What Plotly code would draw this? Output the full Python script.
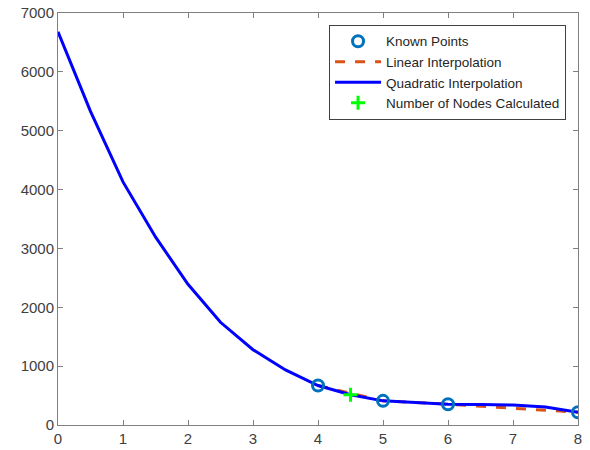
import plotly.graph_objects as go

# Data
known_x = [4, 5, 6, 8]
known_y = [671, 410, 353, 217]

linear_x = [4, 5, 6, 8]
linear_y = [671, 410, 353, 217]

quad_x = [0, 0.5, 1, 1.5, 2, 2.5, 3, 3.5, 4, 4.5, 5, 5.5, 6, 6.5, 7, 7.5, 8]
quad_y = [6680, 5330, 4130, 3195, 2390, 1745, 1280, 935, 671, 515, 410, 378, 353, 348, 338, 305, 217]

node_x = [4.5]
node_y = [512]

x_ticks = [0, 1, 2, 3, 4, 5, 6, 7, 8]
y_ticks = [0, 1000, 2000, 3000, 4000, 5000, 6000, 7000]

fig = go.Figure()
fig.add_trace(go.Scatter(x=linear_x, y=linear_y, mode="lines", name="Linear Interpolation",
                         legendrank=2,
                         line=dict(color="#D95319", width=3, dash="10px,10px")))
fig.add_trace(go.Scatter(x=quad_x, y=quad_y, mode="lines", name="Quadratic Interpolation",
                         legendrank=3,
                         line=dict(color="#0000FF", width=3)))
fig.add_trace(go.Scatter(x=known_x, y=known_y, mode="markers", name="Known Points",
                         legendrank=1,
                         marker=dict(symbol="circle-open", size=11, color="#0072BD",
                                     line=dict(width=3, color="#0072BD"))))
fig.add_trace(go.Scatter(x=node_x, y=node_y, mode="markers", name="Number of Nodes Calculated",
                         legendrank=4,
                         marker=dict(symbol="cross-thin", size=10, color="#00FF00",
                                     line=dict(width=3, color="#00FF00"))))

axis_common = dict(showline=True, linecolor="#808080", linewidth=1, mirror="ticks",
                   ticks="inside", ticklen=5, tickcolor="#808080", showgrid=False,
                   zeroline=False, automargin=False,
                   tickfont=dict(family="Liberation Sans, Arial", size=15, color="#404040"))

fig.update_layout(
    width=590, height=450,
    margin=dict(l=58, r=12, t=13, b=25),
    paper_bgcolor="white", plot_bgcolor="white",
    xaxis=dict(range=[0, 8], tickvals=x_ticks, **axis_common),
    yaxis=dict(range=[0, 7000], tickvals=y_ticks, **axis_common),
    legend=dict(x=0.977, y=0.971, xanchor="right", yanchor="top",
                bgcolor="white", bordercolor="#404040", borderwidth=1,
                font=dict(family="Liberation Sans, Arial", size=13.5, color="#262626"),
                itemwidth=46, tracegroupgap=0),
    showlegend=True,
)

fig.write_html("out.html", config={"displayModeBar": False},
               post_script="document.body.style.margin='0';document.body.style.overflow='hidden';")
